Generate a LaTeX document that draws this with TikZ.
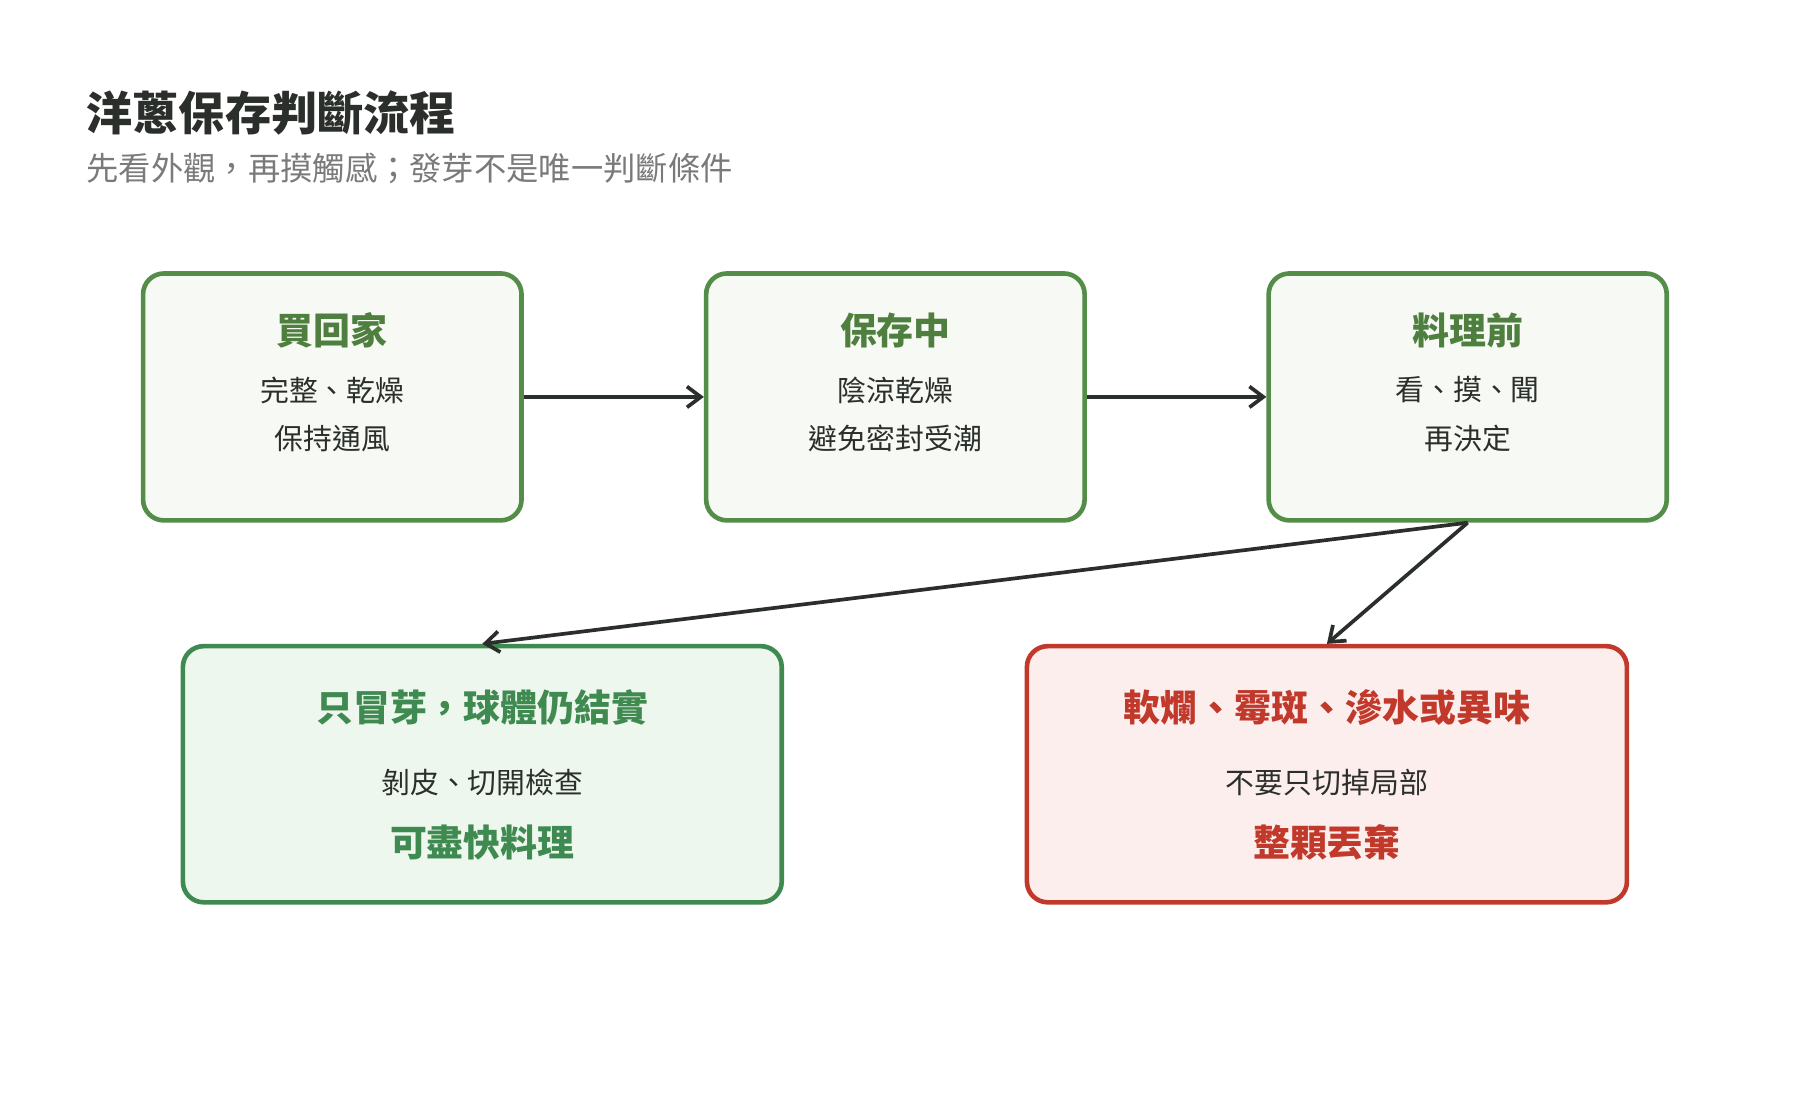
\documentclass[tikz,border=0pt]{standalone}
\usepackage{fontspec}
\setmainfont{Noto Sans CJK TC}
\usetikzlibrary{arrows.meta,positioning,calc}
\definecolor{boxgreen}{HTML}{538D48}
\definecolor{boxfill}{HTML}{F6F9F4}
\definecolor{titlegreen}{HTML}{4F7F3F}
\definecolor{okgreen}{HTML}{3F8A50}
\definecolor{okfill}{HTML}{EEF7EE}
\definecolor{badred}{HTML}{C0392B}
\definecolor{badfill}{HTML}{FDEEEE}
\definecolor{ink}{HTML}{2B2F2B}
\definecolor{subgray}{HTML}{7A7A7A}
\tikzset{
  stagebox/.style={draw=boxgreen, fill=boxfill, line width=2pt, rounded corners=9pt,
    minimum width=328*0.5pt, minimum height=214*0.5pt},
  okbox/.style={draw=okgreen, fill=okfill, line width=2pt, rounded corners=9pt,
    minimum width=519*0.5pt, minimum height=222*0.5pt},
  badbox/.style={draw=badred, fill=badfill, line width=2pt, rounded corners=9pt,
    minimum width=520*0.5pt, minimum height=222*0.5pt},
  head/.style={font=\fontsize{16}{18}\selectfont\bfseries},
  body/.style={font=\fontsize{12.5}{15}\selectfont, text=ink},
  flow/.style={-{Straight Barb[length=6pt,width=9pt]}, line width=1.6pt, draw=ink}
}
\begin{document}
\begin{tikzpicture}[x=0.5pt, y=-0.5pt]
  \useasboundingbox (0,0) rectangle (1560,970);
  \fill[white] (0,0) rectangle (1560,970);

  % title
  \node[anchor=west, text=ink, font=\fontsize{20}{24}\selectfont\bfseries] (title) at (68,98) {洋蔥保存判斷流程};
  \node[anchor=west, text=subgray, font=\fontsize{14}{16}\selectfont] (subtitle) at (68,146) {先看外觀，再摸觸感；發芽不是唯一判斷條件};

  % upper row
  \node[stagebox] (buy) at (288,344) {};
  \node[stagebox] (keep) at (776,344) {};
  \node[stagebox, minimum width=345*0.5pt] (cook) at (1272,344) {};
  \foreach \n/\a/\b/\c in {buy/買回家/完整、乾燥/保持通風, keep/保存中/陰涼乾燥/避免密封受潮, cook/料理前/看、摸、聞/再決定}{
    \node[head, text=titlegreen] at ($(\n)+(0,-58)$) {\a};
    \node[body] at ($(\n)+(0,-6)$) {\b};
    \node[body] at ($(\n)+(0,36)$) {\c};
  }

  % lower row
  \node[okbox] (sprout) at (418,671) {};
  \node[head, text=okgreen] at ($(sprout)+(0,-58)$) {只冒芽，球體仍結實};
  \node[body] at ($(sprout)+(0,7)$) {剝皮、切開檢查};
  \node[head, text=okgreen] at ($(sprout)+(0,59)$) {可盡快料理};

  \node[badbox] (rot) at (1150,671) {};
  \node[head, text=badred] at ($(rot)+(0,-58)$) {軟爛、霉斑、滲水或異味};
  \node[body] at ($(rot)+(0,7)$) {不要只切掉局部};
  \node[head, text=badred] at ($(rot)+(0,59)$) {整顆丟棄};

  % connectors
  \draw[flow] (buy.east) -- (keep.west);
  \draw[flow] (keep.east) -- (cook.west);
  \draw[flow] (cook.south) -- (sprout.north);
  \draw[flow] (cook.south) -- (rot.north);
\end{tikzpicture}
\end{document}
